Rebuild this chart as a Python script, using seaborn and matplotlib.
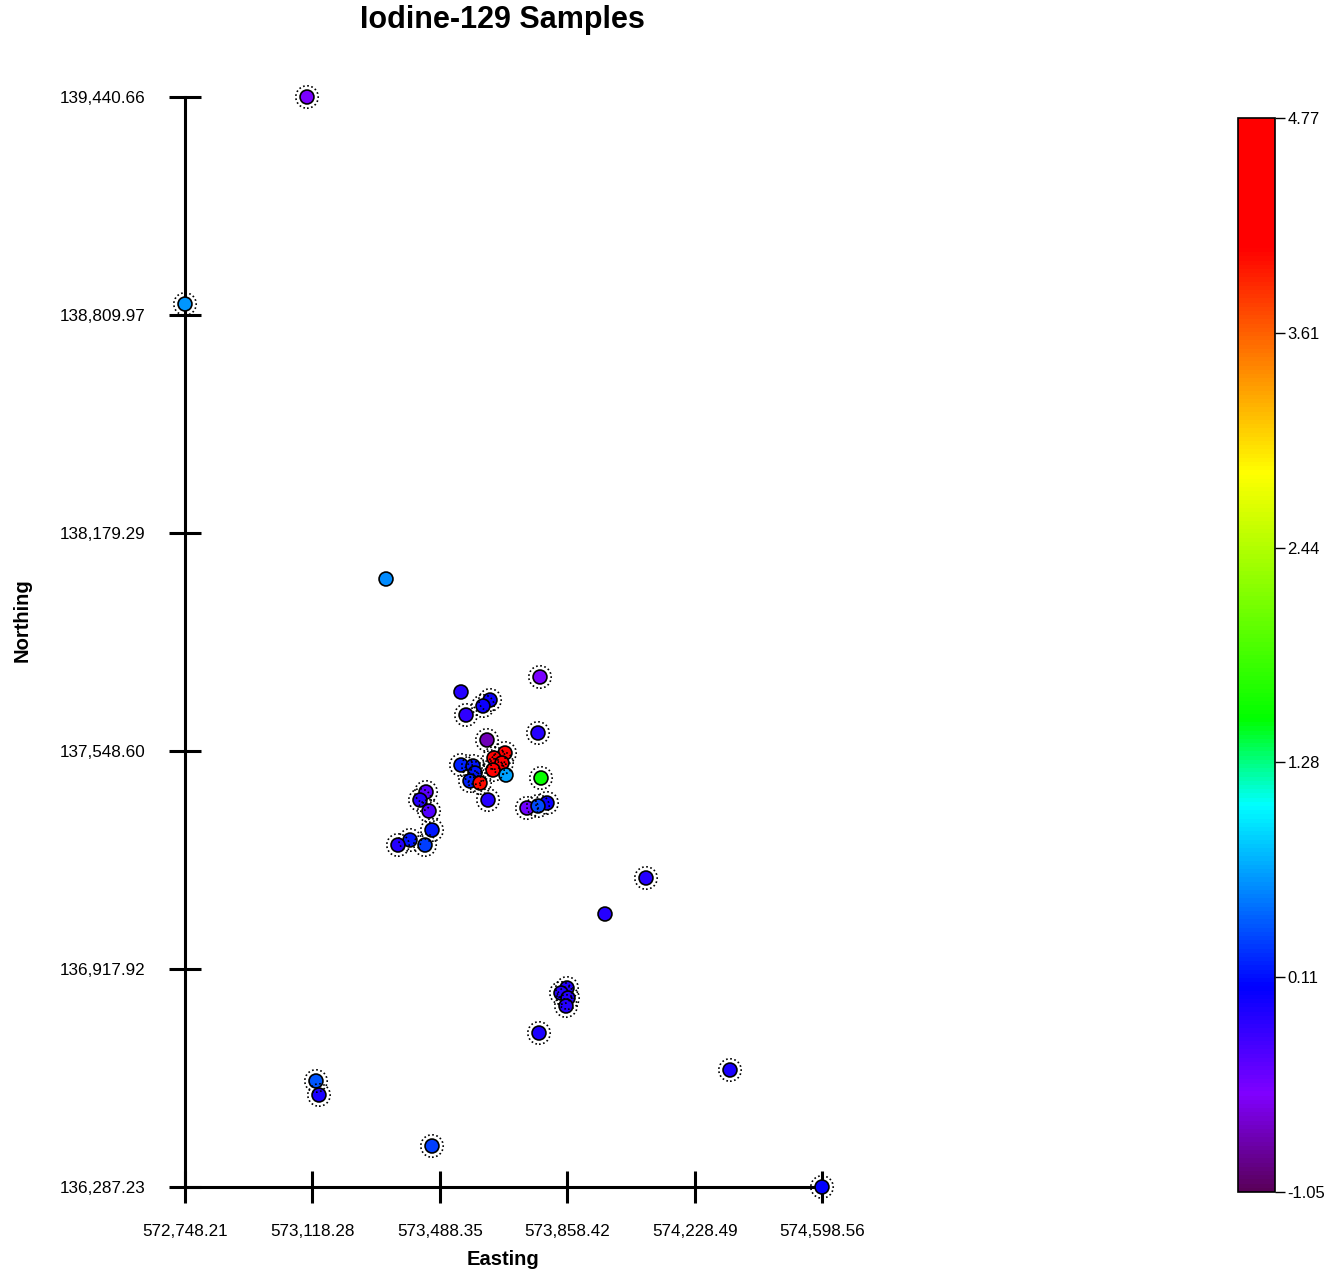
import numpy as np
import pandas as pd
import matplotlib
matplotlib.use("Agg")
import matplotlib.pyplot as plt
from matplotlib.colors import LinearSegmentedColormap, Normalize
from matplotlib.cm import ScalarMappable
import seaborn as sns

# ---------------- data ----------------
easting = [573102.6, 572748.21, 573332.1, 573779.4, 573549.9, 573634.2, 573613.8, 573564.5,
           573773.6, 573625.4, 573677.7, 573645.8, 573669.0, 573642.9, 573549.9, 573584.8,
           573590.6, 573576.1, 573605.1, 573680.6, 573782.3, 573628.4, 573741.6, 573799.7,
           573773.6, 573448.3, 573430.8, 573457.0, 573465.7, 573401.8, 573366.9, 573445.4,
           574087.3, 573968.2, 573857.8, 573840.4, 573860.7, 573854.9, 573776.5, 573128.7,
           573137.4, 574331.3, 573465.7, 574598.56]
northing = [139440.66, 138841.8, 138046.2, 137762.7, 137719.3, 137696.1, 137678.8, 137652.7,
            137600.7, 137580.4, 137542.8, 137528.3, 137513.9, 137493.6, 137508.1, 137505.2,
            137484.9, 137461.8, 137456.0, 137479.1, 137470.5, 137406.8, 137383.7, 137398.2,
            137389.5, 137430.0, 137406.8, 137375.0, 137320.0, 137291.1, 137276.6, 137276.6,
            137181.2, 137077.0, 136862.9, 136848.5, 136834.0, 136810.8, 136732.7, 136593.9,
            136553.4, 136625.7, 136405.8, 136287.23]
i129 = [-0.5, 0.65, 0.6, -0.5, -0.1, 0.0, 0.0, -0.15,
        -0.1, -0.75, 4.6, 4.4, 4.3, 4.2, 0.2, 0.15,
        0.15, 0.2, 4.0, 0.7, 1.55, -0.1, -0.45, 0.0,
        0.35, -0.35, -0.1, -0.3, 0.15, 0.15, -0.1, 0.3,
        -0.1, -0.1, -0.1, -0.1, -0.1, -0.1, -0.05, 0.4,
        -0.05, -0.05, 0.3, 0.05]
flagged = [1, 1, 0, 1, 0, 1, 1, 1,
           1, 1, 1, 1, 1, 1, 1, 1,
           1, 1, 1, 0, 1, 1, 1, 1,
           1, 1, 1, 1, 1, 1, 1, 1,
           1, 0, 1, 1, 1, 1, 1, 1,
           1, 1, 1, 1]
value_min, value_max = -1.05, 4.77

df = pd.DataFrame({"Easting": easting, "Northing": northing, "I129": i129, "flag": flagged})

# ---------------- style ----------------
sns.set_style("white")
plt.rcParams["font.family"] = ["Liberation Sans", "DejaVu Sans"]
plt.rcParams["text.color"] = "black"
plt.rcParams["axes.labelcolor"] = "black"
plt.rcParams["xtick.color"] = "black"
plt.rcParams["ytick.color"] = "black"

cmap = LinearSegmentedColormap.from_list(
    "rainbow_custom",
    [(0.0, (0.35, 0.0, 0.35)), (0.09, (0.5, 0.0, 1.0)), (0.19, (0.0, 0.0, 1.0)),
     (0.36, (0.0, 1.0, 1.0)), (0.44, (0.0, 1.0, 0.0)), (0.67, (1.0, 1.0, 0.0)),
     (0.88, (1.0, 0.0, 0.0)), (1.0, (1.0, 0.0, 0.0))])
norm = Normalize(value_min, value_max)

W, H = 1328, 1273
fig = plt.figure(figsize=(W / 100, H / 100), dpi=100)
ax = fig.add_axes([185 / W, 1 - 1187 / H, (822 - 185) / W, (1187 - 97) / H])

sns.scatterplot(data=df, x="Easting", y="Northing", hue="I129", palette=cmap,
                hue_norm=norm, s=100, edgecolor="black", linewidth=1.2,
                legend=False, clip_on=False, zorder=3, ax=ax)
fl = df[df["flag"] == 1]
ax.scatter(fl["Easting"], fl["Northing"], s=260, facecolors="none", edgecolors="black",
           linewidths=1.2, linestyle=(0, (1, 1.5)), clip_on=False, zorder=4)

xmin, xmax = df["Easting"].min(), df["Easting"].max()
ymin, ymax = df["Northing"].min(), df["Northing"].max()
ax.set_xlim(xmin, xmax)
ax.set_ylim(ymin, ymax)
xt = np.linspace(xmin, xmax, 6)
yt = np.linspace(ymin, ymax, 6)
ax.set_xticks(xt)
ax.set_yticks(yt)
ax.set_xticklabels([f"{v:,.2f}" for v in xt])
ax.set_yticklabels([f"{v:,.2f}" for v in yt])
ax.tick_params(axis="both", direction="inout", length=23, width=2.2, labelsize=12.3,
               colors="black", left=True, bottom=True)
ax.tick_params(axis="x", pad=15)
ax.tick_params(axis="y", pad=17)
for s in ["top", "right"]:
    ax.spines[s].set_visible(False)
for s in ["left", "bottom"]:
    ax.spines[s].set_linewidth(2.2)
    ax.spines[s].set_color("black")
ax.set_facecolor("white")

ax.set_xlabel("Easting", fontsize=14.5, fontweight="bold", labelpad=8)
ax.set_ylabel("Northing", fontsize=14.5, fontweight="bold")
ax.yaxis.set_label_coords(-0.241, 0.52)
fig.text(502 / W, 1 - 20 / H, "Iodine-129 Samples", fontsize=22, fontweight="bold",
         ha="center", va="center", color="black")

# ---------------- colorbar ----------------
cax = fig.add_axes([1238 / W, 1 - 1192 / H, 37 / W, 1074 / H])
cb = fig.colorbar(ScalarMappable(norm=norm, cmap=cmap), cax=cax)
ct = np.linspace(value_min, value_max, 6)
cb.set_ticks(ct)
cb.set_ticklabels([f"{v:.2f}" for v in ct])
cb.outline.set_linewidth(1.2)
cb.outline.set_edgecolor("black")
cax.tick_params(length=7, width=1, labelsize=12, pad=2, direction="out", colors="black")

fig.savefig("out.png", dpi=100, facecolor="white")
